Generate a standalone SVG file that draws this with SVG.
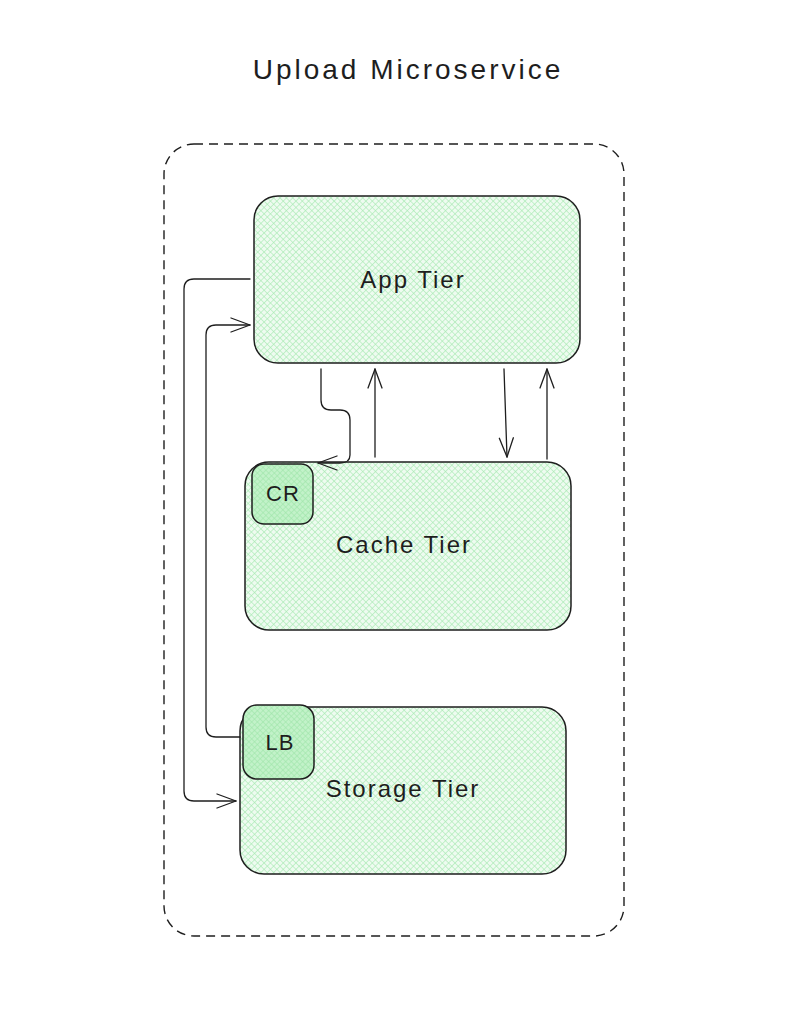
<svg xmlns="http://www.w3.org/2000/svg" width="804" height="1036" viewBox="0 0 804 1036">
  <defs>
    <pattern id="hatch" width="4.5" height="4.5" patternUnits="userSpaceOnUse" patternTransform="rotate(45)">
      <rect width="4.5" height="4.5" fill="#eefbf0"/>
      <line x1="0" y1="0" x2="0" y2="4.5" stroke="#a6eab1" stroke-width="1.2"/>
      <line x1="0" y1="0" x2="4.5" y2="0" stroke="#a6eab1" stroke-width="1.2"/>
    </pattern>
    <pattern id="hatchDark" width="4" height="4" patternUnits="userSpaceOnUse" patternTransform="rotate(45)">
      <rect width="4" height="4" fill="#c2f2c9"/>
      <line x1="0" y1="0" x2="0" y2="4" stroke="#9fe5aa" stroke-width="1.2"/>
      <line x1="0" y1="0" x2="4" y2="0" stroke="#9fe5aa" stroke-width="1.2"/>
    </pattern>
    <marker id="arrow" markerUnits="userSpaceOnUse" markerWidth="22" markerHeight="16" viewBox="0 0 22 16" refX="20" refY="8" orient="auto">
      <path d="M1,1 L20,8 L1,15" fill="none" stroke="#1e1e1e" stroke-width="1.3" stroke-linecap="round" stroke-linejoin="round"/>
    </marker>
  </defs>
  <style>
    .box { fill: url(#hatch); stroke: #1e1e1e; stroke-width: 1.5; }
    .badge { fill: url(#hatchDark); stroke: #1e1e1e; stroke-width: 1.5; }
    .label { font-family: "Liberation Sans", Arial, sans-serif; fill: #1e1e1e; text-anchor: middle; }
    .conn { fill: none; stroke: #1e1e1e; stroke-width: 1.3; stroke-linecap: round; stroke-linejoin: round; }
    .frame { fill: none; stroke: #1e1e1e; stroke-width: 1.4; stroke-dasharray: 9 6; }
  </style>
  <rect width="804" height="1036" fill="#ffffff"/>

  <text class="label" x="408" y="79" font-size="28" letter-spacing="3">Upload Microservice</text>

  <g id="container">
    <rect class="frame" x="164" y="144" width="460" height="792" rx="30" ry="30"/>
  </g>

  <g id="app-tier">
    <rect class="box" x="254" y="196" width="326" height="167" rx="24" ry="24"/>
    <text class="label" x="413" y="288" font-size="24" letter-spacing="2">App Tier</text>
  </g>

  <g id="cache-tier">
    <rect class="box" x="245" y="462" width="326" height="168" rx="24" ry="24"/>
    <text class="label" x="404" y="553" font-size="24" letter-spacing="2">Cache Tier</text>
  </g>

  <g id="cr">
    <rect class="badge" x="252" y="464" width="61" height="60" rx="12" ry="12"/>
    <text class="label" x="283" y="501" font-size="22" letter-spacing="1">CR</text>
  </g>

  <g id="storage-tier">
    <rect class="box" x="240" y="707" width="326" height="167" rx="24" ry="24"/>
    <text class="label" x="403" y="797" font-size="24" letter-spacing="2">Storage Tier</text>
  </g>

  <g id="lb">
    <rect class="badge" x="243" y="705" width="71" height="74" rx="14" ry="14"/>
    <text class="label" x="280" y="750" font-size="22" letter-spacing="1">LB</text>
  </g>

  <g id="connectors">
    <path class="conn" d="M250,279 L194,279 Q184,279 184,289 L184,791 Q184,801 194,801 L236,801" marker-end="url(#arrow)"/>
    <path class="conn" d="M240,737 L216,737 Q206,737 206,727 L206,335 Q206,325 216,325 L250,325" marker-end="url(#arrow)"/>
    <path class="conn" d="M321,369 L321,400 Q321,410 331,410 L340,410 Q350,410 350,420 L350,455 Q350,463 340,463 L318,463" marker-end="url(#arrow)"/>
    <path class="conn" d="M375,457 L375,369" marker-end="url(#arrow)"/>
    <path class="conn" d="M504,369 L507,457" marker-end="url(#arrow)"/>
    <path class="conn" d="M547,459 L547,369" marker-end="url(#arrow)"/>
  </g>
</svg>
